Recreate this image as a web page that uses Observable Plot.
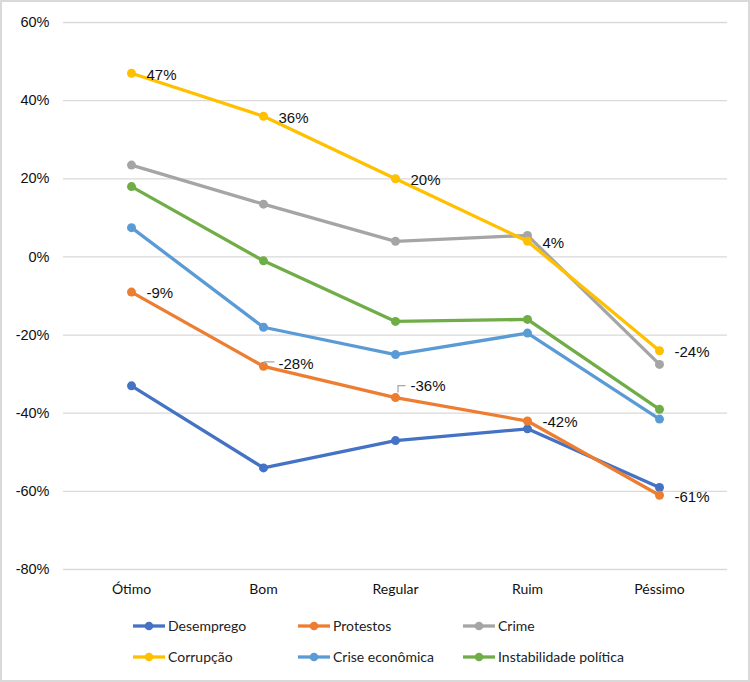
<!DOCTYPE html>
<html>
<head>
<meta charset="utf-8">
<script src="https://cdn.jsdelivr.net/npm/d3@7"></script>
<script src="https://cdn.jsdelivr.net/npm/@observablehq/plot@0.6"></script>
<style>
  html, body { margin: 0; padding: 0; background: #fff; }
  #frame { width: 746px; height: 678px; border: 2px solid #d9d9d9; position: relative; background: #fff; overflow: hidden; }
  #legend { position: absolute; left: 130px; top: 608px; width: 520px; font-family: Lato, "Open Sans", sans-serif; font-size: 14px; color: #222; }
  .row { display: flex; height: 31px; align-items: center; }
  .item { width: 165px; display: flex; align-items: center; white-space: nowrap; }
  .item svg { margin-right: 2px; flex: none; }
</style>
</head>
<body>
<div id="frame"><div id="chart"></div><div id="legend"></div></div>
<script>
const categories = ["Ótimo", "Bom", "Regular", "Ruim", "Péssimo"];
const seriesNames = ["Desemprego", "Protestos", "Crime", "Corrupção", "Crise econômica", "Instabilidade política"];
const seriesColors = ["#4472C4", "#ED7D31", "#A5A5A5", "#FFC000", "#5B9BD5", "#70AD47"];
const desemprego = [-33, -54, -47, -44, -59];
const protestos = [-9, -28, -36, -42, -61];
const crime = [23.5, 13.5, 4, 5.5, -27.5];
const corrupcao = [47, 36, 20, 4, -24];
const criseEconomica = [7.5, -18, -25, -19.5, -41.5];
const instabilidade = [18, -1, -16.5, -16, -39];
const yTicks = [-80, -60, -40, -20, 0, 20, 40, 60];
const labeledSeries = ["Protestos", "Corrupção"];

const seriesValues = [desemprego, protestos, crime, corrupcao, criseEconomica, instabilidade];
const data = seriesNames.flatMap((s, i) => categories.map((c, j) => ({series: s, cat: c, value: seriesValues[i][j]})));
const labels = data.filter(d => labeledSeries.includes(d.series));
const isHigh = d => d.series === "Protestos" && d.cat === "Regular";
const isMid = d => d.series === "Protestos" && d.cat === "Bom";

const leader = (path) => ({draw(ctx) { path(ctx); }});
const leaderBom = leader(ctx => { ctx.moveTo(1, -2); ctx.lineTo(1, -4.5); ctx.lineTo(11, -4.5); });
const leaderReg = leader(ctx => { ctx.moveTo(2.5, -5); ctx.lineTo(2.5, -12); ctx.lineTo(10, -12); });

const font = "Liberation Sans, Arial, sans-serif";
const marks = [
  Plot.gridY(yTicks, {stroke: "#d9d9d9", strokeOpacity: 1, strokeWidth: 1.3}),
  Plot.axisY(yTicks, {tickSize: 0, tickPadding: 14, fontSize: 14.5, fontFamily: font, fill: "#111", tickFormat: d => d + "%"}),
  Plot.axisX({tickSize: 0, tickPadding: 15, fontSize: 14, fontFamily: "Lato, sans-serif", fill: "#111"}),
];
seriesNames.forEach((s, i) => {
  const sd = data.filter(d => d.series === s);
  marks.push(Plot.line(sd, {x: "cat", y: "value", stroke: seriesColors[i], strokeWidth: 3.3}));
  marks.push(Plot.dot(sd, {x: "cat", y: "value", fill: seriesColors[i], r: 4.5}));
});
const labelOpts = {x: "cat", y: "value", text: d => Math.round(d.value) + "%", dx: 15, textAnchor: "start", fontSize: 15, fontFamily: font, fill: "#111"};
marks.push(
  Plot.dot(labels.filter(isMid), {x: "cat", y: "value", symbol: leaderBom, stroke: "#a6a6a6", strokeWidth: 1.2, fill: "none"}),
  Plot.dot(labels.filter(isHigh), {x: "cat", y: "value", symbol: leaderReg, stroke: "#a6a6a6", strokeWidth: 1.2, fill: "none"}),
  Plot.text(labels.filter(d => !isHigh(d) && !isMid(d)), {...labelOpts, dy: 1.5}),
  Plot.text(labels.filter(isMid), {...labelOpts, dy: -2}),
  Plot.text(labels.filter(isHigh), {...labelOpts, dy: -11})
);

const chart = Plot.plot({
  width: 746,
  height: 598,
  marginTop: 20,
  marginLeft: 61,
  marginRight: 21,
  marginBottom: 31,
  x: {type: "point", domain: categories, padding: 0.5, label: null},
  y: {domain: [-80, 60], label: null},
  style: {background: "white", overflow: "visible"},
  marks
});
document.getElementById("chart").appendChild(chart);

const legend = document.getElementById("legend");
for (let r = 0; r < 2; r++) {
  const row = document.createElement("div");
  row.className = "row";
  for (let c = 0; c < 3; c++) {
    const i = r * 3 + c;
    const item = document.createElement("div");
    item.className = "item";
    item.innerHTML = `<svg width="34" height="10"><line x1="1" x2="33" y1="5" y2="5" stroke="${seriesColors[i]}" stroke-width="3.3"/><circle cx="17" cy="5" r="4.3" fill="${seriesColors[i]}"/></svg><span>${seriesNames[i]}</span>`;
    row.appendChild(item);
  }
  legend.appendChild(row);
}
</script>
</body>
</html>
